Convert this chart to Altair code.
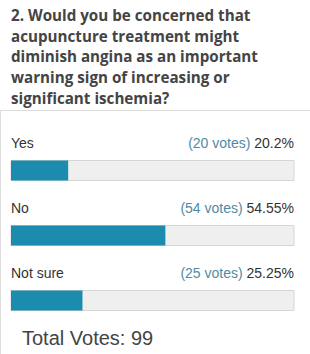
import altair as alt
import pandas as pd

title_lines = [
    "2. Would you be concerned that",
    "acupuncture treatment might",
    "diminish angina as an important",
    "warning sign of increasing or",
    "significant ischemia?",
]
answers = ["Yes", "No", "Not sure"]
votes = [20, 54, 25]
percents = [20.2, 54.55, 25.25]
percent_labels = ["20.2%", "54.55%", "25.25%"]
total_votes = 99

# Liberation Sans advance widths (em) for measuring the percentage text
char_w = {"0": .556, "1": .556, "2": .556, "3": .556, "4": .556, "5": .556,
          "6": .556, "7": .556, "8": .556, "9": .556, ".": .278, "%": .889, " ": .278}
FS = 14

rows = list(range(len(answers)))
df = pd.DataFrame({
    "row": rows,
    "answer": answers,
    "votes": votes,
    "pct": percents,
    "pct_label": percent_labels,
})
df["votes_label"] = [f"({v} votes)" for v in votes]
df["votes_off"] = [-FS * sum(char_w[c] for c in " " + p) for p in percent_labels]
df["full"] = 100

TOP = 110
xs = alt.Scale(domain=[0, 100], range=[11, 294])
ys = alt.Scale(domain=[0, 2], range=[160.5 - TOP, 290.5 - TOP])

base = alt.Chart(df).transform_calculate(row_end="datum.row + 20/65", zero="0")

bg = base.mark_rect(fill="#efefef", stroke="#d6d6d6", strokeWidth=1).encode(
    x=alt.X("zero:Q", scale=xs, axis=None),
    x2="full:Q",
    y=alt.Y("row:Q", scale=ys, axis=None),
    y2="row_end:Q",
)

fg = base.mark_rect(fill="#1b8bae").encode(
    x=alt.X("zero:Q", scale=xs, axis=None),
    x2="pct:Q",
    y=alt.Y("row:Q", scale=ys, axis=None),
    y2="row_end:Q",
)

lab = alt.Chart(df).mark_text(
    align="left", baseline="alphabetic", dy=-13, font="Liberation Sans",
    fontSize=FS, color="#333333"
).encode(
    x=alt.datum(0, scale=xs),
    y=alt.Y("row:Q", scale=ys, axis=None),
    text="answer:N",
)

votes_txt = alt.Chart(df).mark_text(
    align="right", baseline="alphabetic", dy=-13, font="Liberation Sans",
    fontSize=FS, color="#4f8ba3"
).encode(
    x=alt.datum(100, scale=xs),
    xOffset=alt.XOffset("votes_off:Q", scale=None),
    y=alt.Y("row:Q", scale=ys, axis=None),
    text="votes_label:N",
)

pct_txt = alt.Chart(df).mark_text(
    align="right", baseline="alphabetic", dy=-13, font="Liberation Sans",
    fontSize=FS, color="#333333"
).encode(
    x=alt.datum(100, scale=xs),
    y=alt.Y("row:Q", scale=ys, axis=None),
    text="pct_label:N",
)

total_df = pd.DataFrame({"t": [f"Total Votes: {total_votes}"], "row": [3]})
total_txt = alt.Chart(total_df).mark_text(
    align="left", baseline="alphabetic", dx=11, dy=-10.5, font="Liberation Sans",
    fontSize=20, color="#444444"
).encode(
    x=alt.datum(0, scale=xs),
    y=alt.Y("row:Q", scale=ys, axis=None),
    text="t:N",
)

chart = alt.layer(bg, fg, lab, votes_txt, pct_txt, total_txt).properties(
    width=310,
    height=354 - TOP,
    autosize=alt.AutoSizeParams(type="none"),
    padding={"top": TOP, "left": 0, "right": 0, "bottom": 0},
    title=alt.TitleParams(
        text=title_lines,
        anchor="start",
        frame="bounds",
        font="Open Sans",
        fontSize=15.2,
        fontWeight="bold",
        color="#444444",
        lineHeight=20.7,
        baseline="alphabetic",
        offset=8,
        dx=11,
        dy=17,
    ),
).configure_view(stroke=None).configure(background="white")

chart.save("out.html", embed_options={"renderer": "svg", "actions": False})
